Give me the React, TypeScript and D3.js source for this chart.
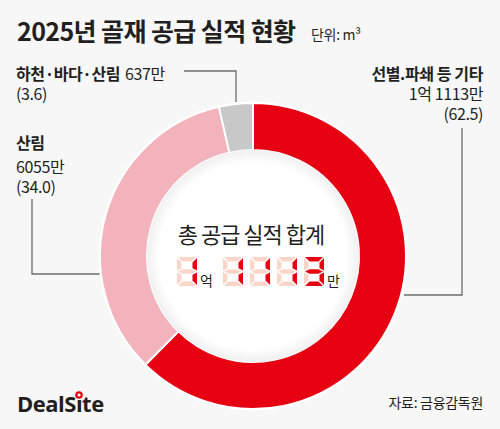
import React, { useLayoutEffect, useRef, useState } from "react";
import * as d3 from "d3";

const categories = ["선별.파쇄 등 기타", "산림", "하천·바다·산림"];
const values = [11113, 6055, 637];
const amountLabels = ["1억 1113만", "6055만", "637만"];
const shareLabels = ["(62.5)", "(34.0)", "(3.6)"];
const sliceColors = ["#e60012", "#f2b3bd", "#c8c8c8"];
const totalParts = [
  { digits: "1", unit: "억" },
  { digits: "1113", unit: "만" },
];

const W = 500;
const H = 429;
const cx = 253;
const cy = 256;
const R = 153;
const r = 106;
const FONT = "'Noto Sans CJK KR', 'Noto Sans', sans-serif";

const SEG: Record<string, string> = {
  "0": "abcdef",
  "1": "bc",
  "2": "abdeg",
  "3": "abcdg",
  "4": "bcfg",
  "5": "acdfg",
  "6": "acdefg",
  "7": "abc",
  "8": "abcdefg",
  "9": "abcdfg",
};

function segPolys(x: number, y: number, w: number, h: number, t: number) {
  const g = 1;
  const ym = y + h / 2;
  const P = (pts: number[][]) => pts.map((p) => p.join(",")).join(" ");
  return {
    a: P([[x + g, y], [x + w - g, y], [x + w - g - t, y + t], [x + g + t, y + t]]),
    d: P([[x + g, y + h], [x + w - g, y + h], [x + w - g - t, y + h - t], [x + g + t, y + h - t]]),
    g: P([[x + g, ym], [x + g + t, ym - t / 2], [x + w - g - t, ym - t / 2], [x + w - g, ym], [x + w - g - t, ym + t / 2], [x + g + t, ym + t / 2]]),
    f: P([[x, y + g], [x + t, y + g + t], [x + t, ym - t / 2 - g], [x, ym - g]]),
    e: P([[x, ym + g], [x + t, ym + t / 2 + g], [x + t, y + h - t - g], [x, y + h - g]]),
    b: P([[x + w, y + g], [x + w - t, y + g + t], [x + w - t, ym - t / 2 - g], [x + w, ym - g]]),
    c: P([[x + w, ym + g], [x + w - t, ym + t / 2 + g], [x + w - t, y + h - t - g], [x + w, y + h - g]]),
  };
}

function Digit({ ch, x, y }: { ch: string; x: number; y: number }) {
  const polys = segPolys(x, y, 20, 29, 4.5);
  const on = SEG[ch] || "";
  return (
    <g>
      {(Object.keys(polys) as (keyof typeof polys)[]).map((k) => (
        <polygon key={k} points={polys[k]} fill={on.includes(k) ? "#e60012" : "#fbd6c8"} />
      ))}
    </g>
  );
}

export default function App() {
  const logoRef = useRef<SVGTextElement>(null);
  const [dotX, setDotX] = useState(82.5);

  useLayoutEffect(() => {
    const el = logoRef.current;
    if (el) {
      try {
        const start = el.getStartPositionOfChar(5);
        const end = el.getEndPositionOfChar(5);
        setDotX((start.x + end.x) / 2);
      } catch (e) {
        /* ignore */
      }
    }
  }, []);

  const pie = d3
    .pie<number>()
    .sort(null)
    .value((d) => d)
    .startAngle(0)
    .endAngle(2 * Math.PI);
  const arcs = pie(values);
  const arc = d3.arc<d3.PieArcDatum<number>>().innerRadius(r).outerRadius(R);

  const digitY = 257;
  const groupX = [177, 223];
  const pitch = 27;

  return (
    <svg width={W} height={H} style={{ position: "absolute", left: 0, top: 0, background: "#f7f7f7" }} fontFamily={FONT}>
      <defs>
        <radialGradient id="innerShade" cx="50%" cy="50%" r="50%">
          <stop offset="88%" stopColor="#ffffff" />
          <stop offset="100%" stopColor="#f0f0f0" />
        </radialGradient>
      </defs>
      <rect x={0} y={0} width={W} height={H} fill="#f7f7f7" />
      <text x={17} y={41} fontSize={25} fontWeight={700} fill="#231f20" letterSpacing={-0.6}>
        2025년 골재 공급 실적 현황
      </text>
      <text x={311} y={40} fontSize={14} fill="#231f20" letterSpacing={-0.3}>
        단위: m³
      </text>

      <g stroke="#6d6d6d" strokeWidth={1.3} fill="none">
        <polyline points={`${184},${71} ${236},${71} ${236},${102}`} />
        <polyline points={`${462},${128} ${462},${295} ${404},${295}`} />
        <polyline points={`${32},${199} ${32},${274} ${101},${274}`} />
      </g>

      <g transform={`translate(${cx},${cy})`}>
        <circle r={R + 1.5} fill="#ffffff" />
        {arcs.map((a, i) => (
          <path key={i} d={arc(a) || ""} fill={sliceColors[i]} stroke="#ffffff" strokeWidth={2} />
        ))}
        <circle r={r} fill="url(#innerShade)" />
      </g>

      <g fill="#231f20" fontSize={16} letterSpacing={-0.4}>
        <text x={16} y={80}>
          <tspan fontWeight={700}>{categories[2]}</tspan>
          <tspan dx={5}>{amountLabels[2]}</tspan>
        </text>
        <text x={16} y={100}>{shareLabels[2]}</text>

        <text x={16} y={149} fontWeight={700}>{categories[1]}</text>
        <text x={16} y={173}>{amountLabels[1]}</text>
        <text x={16} y={193}>{shareLabels[1]}</text>

        <text x={483} y={80} textAnchor="end" fontWeight={700}>{categories[0]}</text>
        <text x={483} y={100} textAnchor="end">{amountLabels[0]}</text>
        <text x={483} y={120} textAnchor="end">{shareLabels[0]}</text>
      </g>

      <text x={251} y={243} textAnchor="middle" fontSize={22} fill="#231f20" letterSpacing={-1}>
        총 공급 실적 합계
      </text>
      {totalParts.map((p, gi) => {
        const x0 = groupX[gi];
        const chars = p.digits.split("");
        return (
          <g key={gi}>
            {chars.map((c, i) => (
              <Digit key={i} ch={c} x={x0 + i * pitch} y={digitY} />
            ))}
            <text x={x0 + chars.length * pitch - 4} y={286} fontSize={14} fill="#231f20">
              {p.unit}
            </text>
          </g>
        );
      })}

      <text ref={logoRef} x={17} y={412} fontSize={22} fontWeight={700} fill="#231f20" fontFamily="'Open Sans', 'DejaVu Sans', sans-serif" letterSpacing={-0.5}>
        DealSıte
      </text>
      <circle cx={dotX} cy={395} r={2.7} fill="#ffffff" stroke="#e60012" strokeWidth={2.2} />
      <text x={483} y={408} textAnchor="end" fontSize={14} fill="#231f20" letterSpacing={-0.3}>
        자료: 금융감독원
      </text>
    </svg>
  );
}
